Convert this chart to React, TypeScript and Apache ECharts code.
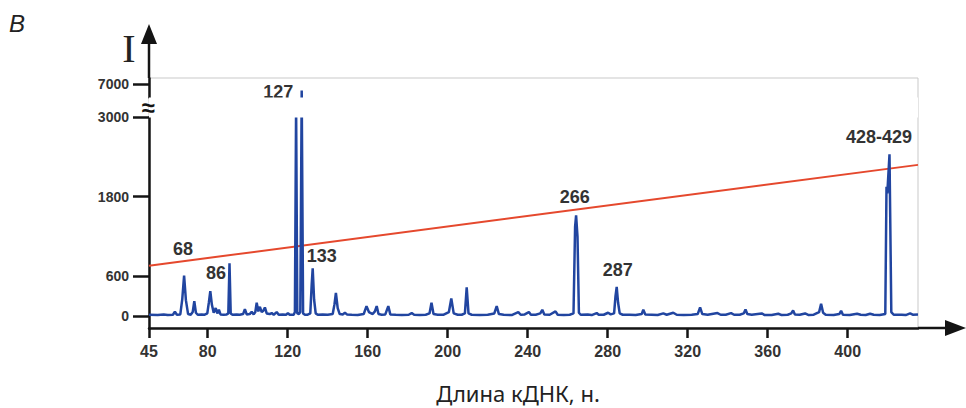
import { useEffect, useRef } from 'react';
import * as echarts from 'echarts';

// Electropherogram trace: [fragment length, nt ; signal intensity]
const trace: [number, number][] = [
  [50.65, 20], [55, 15], [58, 25], [60, 15], [62.6, 20], [63.6, 65], [64.6, 20],
  [66.3, 25], [67.3, 260], [68.2, 610], [69.1, 240], [70.2, 30],
  [71.5, 20], [72.5, 60], [73.3, 225], [74.1, 50], [75, 20],
  [77, 25], [78.5, 20], [79.8, 40], [80.6, 210], [81.3, 375], [82.1, 170], [83, 50],
  [84, 120], [84.8, 40], [85.6, 95], [86.4, 25], [88, 20], [89.5, 25],
  [90.3, 40], [90.9, 795], [91.5, 40], [92.4, 20],
  [94.5, 25], [96, 20], [97.7, 30], [98.6, 105], [99.5, 25], [101, 30], [102, 65], [103, 25],
  [103.8, 60], [104.5, 200], [105.3, 70], [106.1, 140], [107, 60], [107.8, 80], [108.6, 130],
  [109.5, 40], [111, 30], [112, 45], [113, 20], [114.5, 60], [115.5, 20], [117.5, 25],
  [119.2, 20], [120.1, 45], [121, 20], [123, 20],
  [123.6, 60], [124.2, 5200], [124.8, 40], [125.6, 30], [126.3, 60], [127, 6900], [127.7, 40], [128.6, 20],
  [130, 20], [131.3, 40], [132, 480], [132.5, 720], [133.2, 250], [134, 40], [135, 20],
  [137.5, 25], [140, 20], [142.5, 30], [143.4, 180], [144.1, 350], [145, 120], [146, 30],
  [147.5, 25], [148.6, 50], [149.6, 25], [152, 20], [155, 15], [158, 30], [159.4, 150],
  [160.6, 60], [162.5, 30], [163.6, 70], [164.5, 150], [165.4, 30], [167, 20], [168.8, 25],
  [170.3, 150], [171.3, 25], [174, 20], [177, 15], [180.5, 20], [182, 45], [183.2, 20],
  [186, 15], [189, 20], [190.9, 40], [191.9, 200], [192.9, 30], [195, 20], [198, 20],
  [200.6, 60], [201.8, 266], [203, 40], [205, 20], [207, 20], [208.6, 40], [209.5, 433],
  [210.4, 40], [212, 20], [216, 15], [220, 20], [223.3, 40], [224.5, 150], [225.6, 30],
  [228, 20], [232, 15], [235.3, 60], [236.5, 20], [238.5, 25], [240.6, 60], [241.6, 20],
  [244, 20], [246.3, 40], [247.3, 95], [248.3, 25], [251, 20], [253.9, 70], [255, 20],
  [258, 15], [261, 20],
  [262.9, 40], [263.7, 1350], [264.2, 1520], [264.9, 1200], [265.6, 50], [266.5, 20],
  [270, 25], [272, 15], [274.5, 45], [275.5, 20], [278, 20], [280.2, 50], [281.5, 25],
  [283.2, 40], [283.9, 300], [284.5, 440], [285.2, 200], [286, 40], [287.5, 20],
  [291, 20], [294, 15], [297, 30], [297.8, 95], [298.8, 25], [302, 20], [305, 15],
  [307.8, 40], [309.5, 20], [312.8, 50], [314.5, 20], [318, 15], [322, 20], [325, 30],
  [326.2, 130], [327.3, 30], [330, 20], [334.9, 45], [336.5, 20], [339, 20], [341.7, 45],
  [343.2, 20], [346, 20], [348, 40], [348.9, 100], [349.8, 30], [352, 20], [357, 40],
  [358.5, 15], [362, 15], [365.3, 35], [367, 15], [370, 20], [371.8, 40], [372.7, 85],
  [373.6, 25], [376, 20], [378.7, 40], [380.5, 15], [383, 20], [385.7, 60], [386.7, 185],
  [387.7, 50], [389, 20], [393, 15], [395.8, 30], [396.7, 80], [397.6, 20], [401, 15],
  [404.7, 35], [406.5, 20], [409, 15], [411.2, 35], [413, 20], [416, 15],
  [418.8, 30], [419.4, 1950], [419.8, 1850], [420.9, 2440], [421.8, 60], [423, 20],
  [427, 20], [429, 15], [431.2, 40], [432.5, 20], [435.15, 25],
];

// Red reference line, end points
const thresholdLine: [number, number][] = [[50.65, 760], [435.15, 2280]];

// Annotated peaks: fragment size text and the trace position of its tip
const peakNames = ['68', '86', '127', '133', '266', '287', '428-429'];
const peakPositions = [68.2, 90.9, 127, 132.5, 264.2, 284.5, 420.9];

// Axis ticks; the x axis origin carries the label "45"
const xTickValues = [50.65, 80, 120, 160, 200, 240, 280, 320, 360, 400];
const xTickLabels = ['45', '80', '120', '160', '200', '240', '280', '320', '360', '400'];
const yTickValues = [0, 600, 1800, 3000, 7000];
const yBreakStart = 3000;
const yBreakEnd = 6800;

const xAxisTitle = 'Длина кДНК, н.';
const yAxisTitle = 'I';
const panelLetter = 'В';

export default function App() {
  const ref = useRef<HTMLDivElement>(null);

  useEffect(() => {
    if (!ref.current) return;
    const chart = echarts.init(ref.current, null, { renderer: 'svg' });

    const AXIS = '#141414';
    const LABEL = '#333333';
    const TRACE = '#2145a0';
    const labelFont = 'Arial, "Liberation Sans", Helvetica, sans-serif';

    // pixel offsets of each peak caption from its peak tip
    const captionOffsets: [number, number][] = [
      [-1, -27], [-13.5, 9.3], [-23.4, 1], [9, -12], [-1.3, -18.3], [1, -17], [-10.5, -17.6],
    ];

    const markData = peakNames.map((name, i) => {
      const tip = trace.find((p) => p[0] === peakPositions[i]) as [number, number];
      return {
        name,
        coord: tip,
        label: { formatter: name, offset: captionOffsets[i] },
      };
    });

    const gridLeft = 149;
    const gridTop = 78;
    const gridRight = 918;
    const gridBottom = 328;

    chart.setOption({
      animation: false,
      grid: {
        left: gridLeft,
        top: gridTop,
        right: 966 - gridRight,
        bottom: 408 - gridBottom,
        show: true,
        borderColor: '#c9c9c9',
        borderWidth: 1,
        backgroundColor: 'transparent',
      },
      xAxis: {
        type: 'value',
        min: 50.65,
        max: 435.15,
        axisLine: { show: true, onZero: false, lineStyle: { color: AXIS, width: 2.5 } },
        axisTick: {
          show: true,
          length: 10,
          customValues: xTickValues,
          lineStyle: { color: AXIS, width: 2.5 },
        },
        axisLabel: {
          customValues: xTickValues,
          margin: 15,
          color: LABEL,
          fontSize: 16,
          fontWeight: 'bold',
          fontFamily: labelFont,
          formatter: (v: number) => {
            const i = xTickValues.findIndex((t) => Math.abs(t - v) < 1e-6);
            return i >= 0 ? xTickLabels[i] : '';
          },
        },
        splitLine: { show: false },
      },
      yAxis: {
        type: 'value',
        min: -180,
        max: 7090,
        breaks: [{ start: yBreakStart, end: yBreakEnd, gap: 300 }],
        breakArea: {
          show: true,
          expandOnClick: false,
          zigzagAmplitude: 0,
          zigzagZ: 100,
          itemStyle: { color: '#ffffff', opacity: 1, borderColor: 'rgba(0,0,0,0)', borderWidth: 0 },
        },
        axisLine: { show: true, onZero: false, lineStyle: { color: AXIS, width: 2.5 } },
        axisTick: {
          show: true,
          length: 16,
          customValues: yTickValues,
          lineStyle: { color: AXIS, width: 2.5 },
        },
        axisLabel: {
          customValues: yTickValues,
          margin: 20,
          color: LABEL,
          fontSize: 14,
          fontWeight: 'bold',
          fontFamily: labelFont,
          formatter: (v: number) => String(v),
        },
        splitLine: { show: false },
      },
      series: [
        {
          type: 'line',
          name: 'threshold',
          data: thresholdLine,
          symbol: 'none',
          lineStyle: { color: '#e5482d', width: 2 },
          z: 2,
        },
        {
          type: 'line',
          name: 'signal',
          data: trace,
          symbol: 'none',
          lineStyle: { color: TRACE, width: 2.5 },
          z: 3,
          markPoint: {
            symbol: 'circle',
            symbolSize: 1,
            itemStyle: { color: 'rgba(0,0,0,0)' },
            label: {
              show: true,
              position: 'inside',
              color: LABEL,
              fontSize: 18,
              fontWeight: 'bold',
              fontFamily: labelFont,
            },
            data: markData,
          },
        },
      ],
      graphic: [
        // y axis continues above the plot frame to an arrow
        {
          type: 'line',
          shape: { x1: gridLeft, y1: gridTop, x2: gridLeft, y2: 42 },
          style: { stroke: AXIS, lineWidth: 2.5 },
          z: 50,
        },
        {
          type: 'polygon',
          shape: { points: [[gridLeft, 24], [gridLeft - 8, 44], [gridLeft + 8, 44]] },
          style: { fill: AXIS },
          z: 50,
        },
        // x axis continues past the frame to an arrow
        {
          type: 'line',
          shape: { x1: gridRight, y1: gridBottom, x2: 948, y2: gridBottom },
          style: { stroke: AXIS, lineWidth: 2.5 },
          z: 50,
        },
        {
          type: 'polygon',
          shape: { points: [[966, gridBottom], [945, gridBottom - 8], [945, gridBottom + 8]] },
          style: { fill: AXIS },
          z: 50,
        },
        // broken-axis mark
        {
          type: 'text',
          x: 148,
          y: 107,
          z: 200,
          style: {
            text: '≈',
            fill: AXIS,
            fontSize: 24,
            fontWeight: 'bold',
            fontFamily: labelFont,
            align: 'center',
            verticalAlign: 'middle',
          },
        },
        {
          type: 'text',
          x: 129,
          y: 48,
          style: {
            text: yAxisTitle,
            fill: '#222222',
            fontSize: 40,
            fontFamily: '"Liberation Serif", "Times New Roman", serif',
            align: 'center',
            verticalAlign: 'middle',
          },
        },
        {
          type: 'text',
          x: 17,
          y: 23,
          style: {
            text: panelLetter,
            fill: '#222222',
            fontSize: 24,
            fontStyle: 'italic',
            fontFamily: labelFont,
            align: 'center',
            verticalAlign: 'middle',
          },
        },
        {
          type: 'text',
          x: 518,
          y: 393,
          style: {
            text: xAxisTitle,
            fill: '#222222',
            fontSize: 22,
            fontFamily: '"Noto Sans", sans-serif',
            align: 'center',
            verticalAlign: 'middle',
          },
        },
      ],
    });

    return () => chart.dispose();
  }, []);

  return (
    <div
      ref={ref}
      style={{ position: 'fixed', left: 0, top: 0, width: 966, height: 408, background: '#ffffff' }}
    />
  );
}
